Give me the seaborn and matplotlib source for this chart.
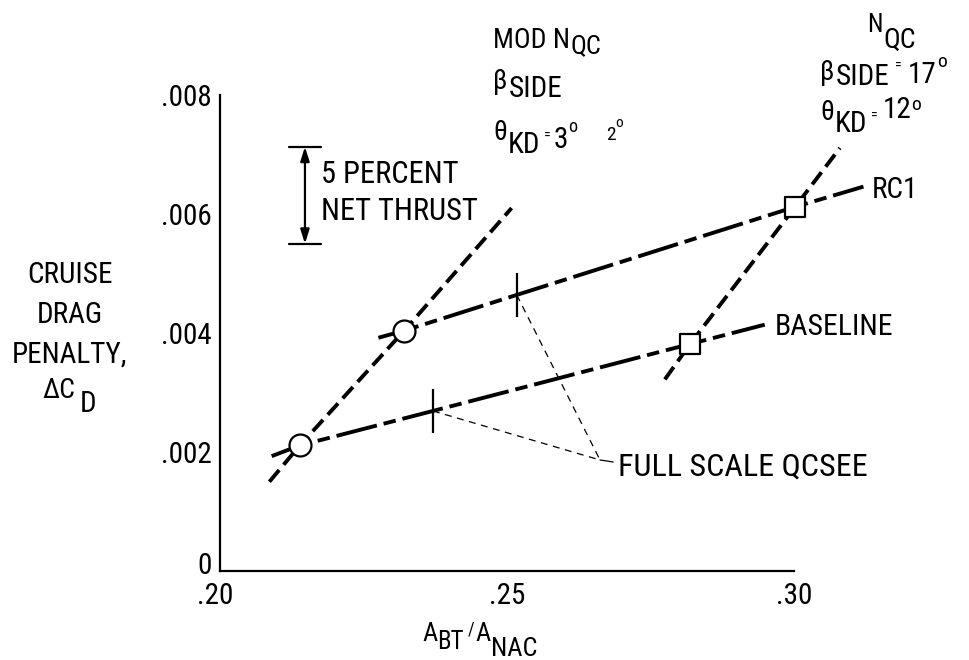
import matplotlib
matplotlib.use("Agg")
import matplotlib.pyplot as plt
from matplotlib import font_manager, transforms
import seaborn as sns

# ---------------- data ----------------
mod_nqc_x = [0.2086, 0.2139, 0.2321, 0.2508]
mod_nqc_y = [0.00150, 0.00211, 0.00404, 0.00610]
nqc_x = [0.2775, 0.2819, 0.3002, 0.3080]
nqc_y = [0.00322, 0.003815, 0.00612, 0.00711]
baseline_x = [0.2090, 0.2139, 0.2371, 0.2819, 0.2949]
baseline_y = [0.00193, 0.00211, 0.00269, 0.003815, 0.00414]
rc1_x = [0.2276, 0.2321, 0.2517, 0.3002, 0.3121]
rc1_y = [0.00392, 0.00404, 0.00464, 0.00612, 0.00646]
circle_x = [0.2139, 0.2321]
circle_y = [0.00211, 0.00404]
square_x = [0.2819, 0.3002]
square_y = [0.003815, 0.00612]
qcsee_x = [0.2371, 0.2517]
qcsee_y = [0.00269, 0.00464]
qcsee_label_pt = [(0.2662, 0.001866), (0.2685, 0.001832)]
thrust_x = 0.2148
thrust_top = 0.00713
thrust_bot = 0.00550
xticks = [0.20, 0.25, 0.30]
xtick_labels = [".20", ".25", ".30"]
yticks = [0, 0.002, 0.004, 0.006, 0.008]
ytick_labels = ["0", ".002", ".004", ".006", ".008"]

# ---------------- style ----------------
sns.set_theme(style="white")
entries = font_manager.fontManager.ttflist
names = {f.name for f in entries}
cond_stretch = {"condensed", "semi-condensed", "extra-condensed", "ultra-condensed"}
FONT, STRETCH, SCALE = None, "normal", 1.0
for cand in ["Liberation Sans Narrow", "Roboto Condensed", "Open Sans Condensed",
             "Noto Sans Condensed", "DejaVu Sans Condensed", "Arial Narrow"]:
    if cand in names:
        FONT = cand
        break
if FONT is None:
    for fam in ["Roboto", "Noto Sans", "Open Sans", "DejaVu Sans"]:
        if any(f.name == fam and str(f.stretch) in cond_stretch for f in entries):
            FONT, STRETCH = fam, "condensed"
            break
if FONT is None:
    FONT, SCALE = "Liberation Sans", 0.87
plt.rcParams["font.family"] = [FONT, "DejaVu Sans"]
plt.rcParams["font.stretch"] = STRETCH
plt.rcParams["lines.scale_dashes"] = False
plt.rcParams["text.color"] = "black"


def fs(v):
    return v * SCALE


W, H = 970, 660
fig = plt.figure(figsize=(W / 100, H / 100), dpi=100)
fig.patch.set_facecolor("white")
ax = fig.add_axes([220 / W, 89 / H, 688.8 / W, 565.25 / H])
ax.set_facecolor("white")
ax.set_xlim(0.20, 0.32)
ax.set_ylim(0, 0.0095)

LW = 2.8
# steep dashed lines
for xs, ys in [(mod_nqc_x, mod_nqc_y), (nqc_x, nqc_y)]:
    sns.lineplot(x=xs, y=ys, sort=False, estimator=None, color="black",
                 lw=LW, ax=ax, zorder=2)
    ax.lines[-1].set_dashes((11, 5))
    ax.lines[-1].set_dash_capstyle("butt")
# chain lines
for xs, ys in [(baseline_x, baseline_y), (rc1_x, rc1_y)]:
    sns.lineplot(x=xs, y=ys, sort=False, estimator=None, color="black",
                 lw=LW, ax=ax, zorder=2)
    ax.lines[-1].set_dashes((30, 5, 9, 5))

# full-scale QCSEE marks and leader lines
ax.plot(qcsee_x, qcsee_y, ls="none", marker="|", ms=31, mew=1.6, color="black", zorder=3)
px, py = qcsee_label_pt[0]
qx, qy = qcsee_label_pt[1]
for cx, cy in zip(qcsee_x, qcsee_y):
    ln, = ax.plot([cx, px], [cy, py], color="black", lw=0.9, zorder=1)
    ln.set_dashes((5, 4))
ax.plot([px, qx], [py, qy], color="black", lw=0.9, zorder=1)

# markers
sns.scatterplot(x=circle_x, y=circle_y, marker="o", s=250, facecolor="white",
                edgecolor="black", linewidth=1.6, ax=ax, zorder=5)
sns.scatterplot(x=square_x, y=square_y, marker="s", s=220, facecolor="white",
                edgecolor="black", linewidth=1.6, ax=ax, zorder=5)

# 5 percent net thrust bar
ax.annotate("", xy=(thrust_x, thrust_top), xytext=(thrust_x, thrust_bot),
            arrowprops=dict(arrowstyle="<|-|>,head_length=0.7,head_width=0.22",
                            lw=1.6, color="black", shrinkA=0, shrinkB=0))
cap = 0.0028
for yy in (thrust_top, thrust_bot):
    ax.plot([thrust_x - cap, thrust_x + cap], [yy, yy], color="black", lw=1.6)

# axes
for s in ("top", "right"):
    ax.spines[s].set_visible(False)
for s in ("left", "bottom"):
    ax.spines[s].set_linewidth(1.6)
    ax.spines[s].set_color("black")
ax.spines["left"].set_bounds(0, 0.008)
ax.spines["bottom"].set_bounds(0.20, 0.30)
ax.set_xticks(xticks)
ax.set_xticklabels(xtick_labels)
ax.set_yticks(yticks)
ax.set_yticklabels(ytick_labels)
ax.tick_params(axis="both", direction="in", length=24, width=1.6, colors="black",
               labelsize=fs(21))
ax.tick_params(axis="y", pad=6)
ax.tick_params(axis="x", pad=8)
ax.grid(False)
# the "0" label sits a little above the axis line, ".20" a little left
zero_lab = ax.get_yticklabels()[0]
zero_lab.set_transform(zero_lab.get_transform() +
                       transforms.ScaledTranslation(0, 0.08, fig.dpi_scale_trans))
x20_lab = ax.get_xticklabels()[0]
x20_lab.set_transform(x20_lab.get_transform() +
                      transforms.ScaledTranslation(-0.05, 0, fig.dpi_scale_trans))

# ---------------- text helpers (pixel coords, y from top) ----------------
ID = transforms.IdentityTransform()
renderer = fig.canvas.get_renderer()


def rich(x0, base, parts):
    x = x0
    for part in parts:
        s, size, dy = part[:3]
        gap = part[3] if len(part) > 3 else 0
        t = fig.text(x, H - (base + dy), s, fontsize=fs(size), transform=ID,
                     ha="left", va="baseline")
        x += t.get_window_extent(renderer).width + gap


def ctext(x, base, s, size=21):
    fig.text(x, H - base, s, fontsize=fs(size), transform=ID, ha="center", va="baseline")


# y axis label
ctext(70, 283, "CRUISE")
ctext(70, 323, "DRAG")
ctext(70, 363, "PENALTY,")
rich(42, 398, [("ΔC", 20, 0, 5), ("D", 21, 14)])

# x axis label
rich(422, 641, [("A", 19, 0), ("BT", 18, 8, 4), ("/", 13, -6, 1), ("A", 19, 0), ("NAC", 19, 15)])

# 5 percent
rich(321, 183, [("5 PERCENT", 22, 0)])
rich(321, 220, [("NET THRUST", 22, 0)])

# MOD NQC
rich(493, 48, [("MOD N", 20, 0, 1), ("QC", 19, 5)])
rich(493, 89, [("β", 20, 0, 1), ("SIDE", 21, 8)])
rich(606, 140, [("2", 14, 0), ("o", 11, -13)])
rich(493, 140, [("θ", 20, 0, 1), ("KD", 21, 13, 4), ("=", 10, 0, 3), ("3", 21, 8), ("o", 13, -8)])

# NQC
rich(867, 32, [("N", 18, 0, 1), ("QC", 20, 16)])
rich(820, 80, [("β", 20, 0, 1), ("SIDE", 21, 5, 6), ("=", 10, -10, 6), ("17", 21, 3, 1), ("o", 14, -13)])
rich(820, 120, [("θ", 20, 0, 1), ("KD", 21, 12, 4), ("=", 10, 0, 5), ("12", 21, -2), ("o", 14, -10)])

# line labels
rich(872, 198, [("RC1", 21, 0)])
rich(775, 335, [("BASELINE", 21.5, 0)])
rich(618, 476, [("FULL SCALE QCSEE", 23, 0)])

fig.savefig("out.png", dpi=100, facecolor="white")
